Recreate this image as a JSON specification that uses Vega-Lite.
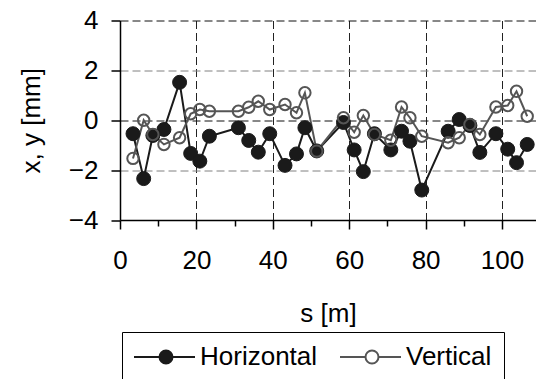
{
  "$schema": "https://vega.github.io/schema/vega-lite/v6.json",
  "autosize": {"type": "none"},
  "padding": {"left": 120, "top": 20.5, "right": 0, "bottom": 159},
  "width": 416,
  "height": 199.5,
  "background": "white",
  "config": {"view": {"stroke": null}, "font": "Liberation Sans"},
  "data": {"values": [
    {"s": 3.4, "v": -0.54, "series": "Horizontal"},
    {"s": 6.2, "v": -2.34, "series": "Horizontal"},
    {"s": 8.6, "v": -0.61, "series": "Horizontal"},
    {"s": 11.5, "v": -0.37, "series": "Horizontal"},
    {"s": 15.6, "v": 1.52, "series": "Horizontal"},
    {"s": 18.5, "v": -1.33, "series": "Horizontal"},
    {"s": 20.9, "v": -1.64, "series": "Horizontal"},
    {"s": 23.4, "v": -0.64, "series": "Horizontal"},
    {"s": 31.0, "v": -0.3, "series": "Horizontal"},
    {"s": 33.7, "v": -0.81, "series": "Horizontal"},
    {"s": 36.2, "v": -1.28, "series": "Horizontal"},
    {"s": 39.2, "v": -0.54, "series": "Horizontal"},
    {"s": 43.2, "v": -1.81, "series": "Horizontal"},
    {"s": 46.2, "v": -1.35, "series": "Horizontal"},
    {"s": 48.4, "v": -0.3, "series": "Horizontal"},
    {"s": 51.5, "v": -1.23, "series": "Horizontal"},
    {"s": 58.5, "v": -0.09, "series": "Horizontal"},
    {"s": 61.3, "v": -1.19, "series": "Horizontal"},
    {"s": 63.7, "v": -2.06, "series": "Horizontal"},
    {"s": 66.6, "v": -0.54, "series": "Horizontal"},
    {"s": 70.9, "v": -1.19, "series": "Horizontal"},
    {"s": 73.7, "v": -0.44, "series": "Horizontal"},
    {"s": 75.9, "v": -0.84, "series": "Horizontal"},
    {"s": 79.0, "v": -2.8, "series": "Horizontal"},
    {"s": 85.9, "v": -0.44, "series": "Horizontal"},
    {"s": 88.8, "v": 0.03, "series": "Horizontal"},
    {"s": 91.6, "v": -0.21, "series": "Horizontal"},
    {"s": 94.2, "v": -1.29, "series": "Horizontal"},
    {"s": 98.4, "v": -0.54, "series": "Horizontal"},
    {"s": 101.5, "v": -1.16, "series": "Horizontal"},
    {"s": 103.8, "v": -1.7, "series": "Horizontal"},
    {"s": 106.6, "v": -0.97, "series": "Horizontal"},
    {"s": 3.4, "v": -1.53, "series": "Vertical"},
    {"s": 6.2, "v": 0.0, "series": "Vertical"},
    {"s": 8.6, "v": -0.57, "series": "Vertical"},
    {"s": 11.5, "v": -0.97, "series": "Vertical"},
    {"s": 15.6, "v": -0.7, "series": "Vertical"},
    {"s": 18.5, "v": 0.26, "series": "Vertical"},
    {"s": 20.9, "v": 0.43, "series": "Vertical"},
    {"s": 23.4, "v": 0.36, "series": "Vertical"},
    {"s": 31.0, "v": 0.36, "series": "Vertical"},
    {"s": 33.7, "v": 0.52, "series": "Vertical"},
    {"s": 36.2, "v": 0.76, "series": "Vertical"},
    {"s": 39.2, "v": 0.43, "series": "Vertical"},
    {"s": 43.2, "v": 0.63, "series": "Vertical"},
    {"s": 46.2, "v": 0.3, "series": "Vertical"},
    {"s": 48.4, "v": 1.1, "series": "Vertical"},
    {"s": 51.5, "v": -1.24, "series": "Vertical"},
    {"s": 58.5, "v": 0.1, "series": "Vertical"},
    {"s": 61.3, "v": -0.48, "series": "Vertical"},
    {"s": 63.7, "v": 0.19, "series": "Vertical"},
    {"s": 66.6, "v": -0.57, "series": "Vertical"},
    {"s": 70.9, "v": -0.8, "series": "Vertical"},
    {"s": 73.7, "v": 0.53, "series": "Vertical"},
    {"s": 75.9, "v": 0.1, "series": "Vertical"},
    {"s": 79.0, "v": -0.64, "series": "Vertical"},
    {"s": 85.9, "v": -0.9, "series": "Vertical"},
    {"s": 88.8, "v": -0.7, "series": "Vertical"},
    {"s": 91.6, "v": -0.17, "series": "Vertical"},
    {"s": 94.2, "v": -0.57, "series": "Vertical"},
    {"s": 98.4, "v": 0.53, "series": "Vertical"},
    {"s": 101.5, "v": 0.59, "series": "Vertical"},
    {"s": 103.8, "v": 1.16, "series": "Vertical"},
    {"s": 106.6, "v": 0.16, "series": "Vertical"}
  ]},
  "encoding": {
    "x": {"field": "s", "type": "quantitative",
      "scale": {"domain": [0, 108.9], "nice": false, "zero": false},
      "axis": {
        "values": [0, 10, 20, 30, 40, 50, 60, 70, 80, 90, 100],
        "labelExpr": "datum.value % 20 == 0 ? datum.label : ''",
        "grid": true,
        "gridDash": [8, 4],
        "gridColor": "#222",
        "gridOpacity": {"condition": {"test": "datum.value % 20 == 0 && datum.value > 0", "value": 1}, "value": 0},
        "tickSize": {"condition": {"test": "datum.value % 20 == 0", "value": 9}, "value": 6},
        "tickColor": "black", "tickWidth": 1.5,
        "domainColor": "black", "domainWidth": 1.5,
        "labelFontSize": 26, "labelColor": "black", "labelPadding": 18, "labelFlush": false,
        "title": "s [m]", "titleFontSize": 26, "titleFontWeight": "normal", "titleColor": "black", "titlePadding": 27
      }},
    "y": {"field": "v", "type": "quantitative",
      "scale": {"domain": [-4, 4], "nice": false},
      "axis": {
        "values": [-4, -2, 0, 2, 4],
        "grid": true,
        "gridDash": [8, 4],
        "gridColor": {"condition": {"test": "datum.value == 2 || datum.value == -2", "value": "#808080"}, "value": "#111"},
        "gridOpacity": {"condition": {"test": "datum.value == -4", "value": 0}, "value": 1},
        "tickSize": 9, "tickColor": "black", "tickWidth": 1.5,
        "domainColor": "black", "domainWidth": 1.5,
        "labelFontSize": 26, "labelColor": "black", "labelPadding": 13,
        "title": "x, y [mm]", "titleFontSize": 26, "titleFontWeight": "normal", "titleColor": "black", "titlePadding": 24
      }}
  },
  "layer": [
    {"mark": {"type": "line", "strokeWidth": 2, "clip": false},
     "encoding": {
       "color": {"field": "series", "type": "nominal",
         "scale": {"domain": ["Horizontal", "Vertical"], "range": ["#1a1a1a", "#555555"]},
         "legend": {
           "orient": "none", "legendX": 2, "legendY": 311.5,
           "direction": "horizontal", "title": null,
           "strokeColor": "black", "fillColor": "white", "padding": 12,
           "symbolType": "M-1.3,0H1.25M2.55,0H4.8M1.25,0A0.65,0.65,0,1,1,2.55,0A0.65,0.65,0,1,1,1.25,0Z",
           "symbolSize": 400, "symbolStrokeWidth": 2,
           "labelFontSize": 26, "labelColor": "black", "labelOffset": 40, "labelLimit": 300,
           "columnPadding": 18,
           "encode": {"symbols": {"update": {"fill": {"signal": "datum.value === 'Horizontal' ? '#1a1a1a' : 'transparent'"}}}}
         }},
       "order": {"field": "s"}
     }},
    {"transform": [{"filter": "datum.series === 'Horizontal'"}],
     "mark": {"type": "point", "filled": true, "fill": "#1a1a1a", "stroke": "#1a1a1a", "strokeWidth": 1, "size": 195, "opacity": 1, "clip": false},
     "encoding": {}},
    {"transform": [{"filter": "datum.series === 'Vertical'"}],
     "mark": {"type": "point", "filled": false, "fill": "transparent", "stroke": "#555555", "strokeWidth": 2, "size": 130, "opacity": 1, "clip": false},
     "encoding": {}}
  ]
}
